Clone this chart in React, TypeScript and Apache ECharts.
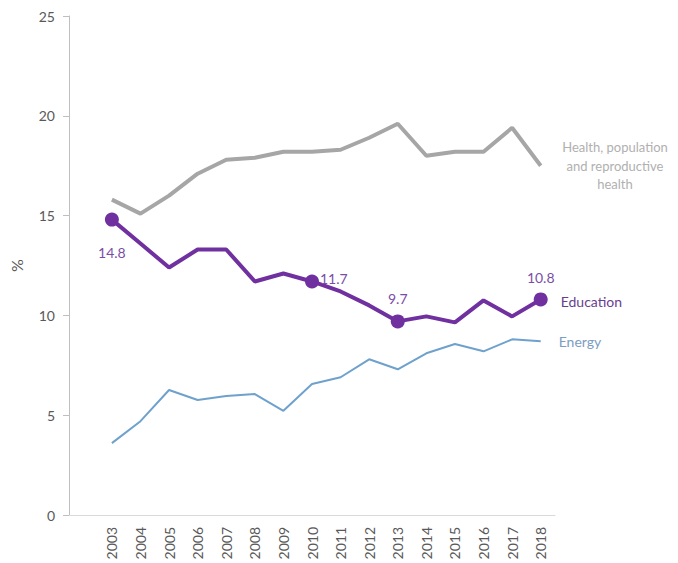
import React, { useEffect, useRef } from "react";
import * as echarts from "echarts";

const years = ["", "2003", "2004", "2005", "2006", "2007", "2008", "2009", "2010", "2011", "2012", "2013", "2014", "2015", "2016", "2017", "2018"];
const health = [null, 15.8, 15.1, 16.0, 17.1, 17.8, 17.9, 18.2, 18.2, 18.3, 18.9, 19.6, 18.0, 18.2, 18.2, 19.4, 17.5];
const education = [null, 14.8, 13.6, 12.4, 13.3, 13.3, 11.7, 12.1, 11.7, 11.2, 10.5, 9.7, 9.95, 9.65, 10.75, 9.95, 10.8];
const energy = [null, 3.6, 4.7, 6.26, 5.76, 5.96, 6.06, 5.22, 6.56, 6.9, 7.8, 7.3, 8.1, 8.57, 8.2, 8.8, 8.7];
const highlighted = ["2003", "2010", "2013", "2018"];
const healthLabelLines = ["Health, population", "and reproductive", "health"];
const yTicks = { min: 0, max: 25, interval: 5 };

const FONT = "Lato, 'Noto Sans', sans-serif";
const PURPLE = "#7030a0";
const GRAY = "#a6a6a6";
const BLUE = "#6fa1cd";

export default function App() {
  const ref = useRef<HTMLDivElement>(null);
  useEffect(() => {
    document.body.style.margin = "0";
    const chart = echarts.init(ref.current!, null, { renderer: "svg" });
    const labelPos: Record<string, any> = {
      "2003": { position: "bottom", distance: 19 },
      "2010": { position: "right", distance: 1, offset: [0, -3] },
      "2013": { position: "top", distance: 9 },
      "2018": { position: "top", distance: 8 },
    };
    const eduData = education.map((v, i) => {
      const y = years[i];
      if (v !== null && highlighted.includes(y)) {
        return {
          value: v,
          symbol: "circle",
          symbolSize: 14,
          label: {
            show: true,
            formatter: String(v),
            color: "#7a4ea6",
            fontSize: 14,
            fontFamily: FONT,
            ...labelPos[y],
          },
        };
      }
      return { value: v, symbol: "none" };
    });
    chart.setOption({
      animation: false,
      grid: { left: 69, top: 16, right: 123, bottom: 48, containLabel: false },
      xAxis: {
        type: "category",
        data: years,
        boundaryGap: true,
        axisLine: { show: true, lineStyle: { color: "#d9d9d9", width: 1 } },
        axisTick: { show: false },
        axisLabel: {
          rotate: 90,
          interval: 0,
          margin: 12,
          color: "#595959",
          fontSize: 14,
          fontFamily: FONT,
        },
      },
      yAxis: {
        type: "value",
        min: yTicks.min,
        max: yTicks.max,
        interval: yTicks.interval,
        name: "%",
        nameLocation: "middle",
        nameGap: 45,
        nameRotate: 90,
        nameTextStyle: { color: "#595959", fontSize: 16, fontFamily: FONT },
        splitLine: { show: false },
        axisLine: { show: true, lineStyle: { color: "#bfbfbf", width: 1 } },
        axisTick: { show: true, length: 6, lineStyle: { color: "#bfbfbf" } },
        axisLabel: { margin: 14, color: "#595959", fontSize: 14, fontFamily: FONT },
      },
      series: [
        {
          name: "Health, population and reproductive health",
          type: "line",
          data: health,
          symbol: "none",
          lineStyle: { color: GRAY, width: 4 },
          itemStyle: { color: GRAY },
          z: 2,
        },
        {
          name: "Education",
          type: "line",
          data: eduData,
          lineStyle: { color: PURPLE, width: 4 },
          itemStyle: { color: PURPLE },
          endLabel: {
            show: true,
            formatter: "Education",
            color: "#6a3d8f",
            fontSize: 14,
            fontFamily: FONT,
            distance: 20,
            offset: [0, 2],
          },
          z: 3,
        },
        {
          name: "Energy",
          type: "line",
          data: energy,
          symbol: "none",
          lineStyle: { color: BLUE, width: 2 },
          itemStyle: { color: BLUE },
          endLabel: {
            show: true,
            formatter: "Energy",
            color: "#7b9dc2",
            fontSize: 14,
            fontFamily: FONT,
            distance: 18,
          },
          z: 2,
        },
      ],
      graphic: healthLabelLines.map((t, i) => ({
        type: "text",
        x: 615,
        y: 147 + i * 18.5,
        style: {
          text: t,
          align: "center",
          verticalAlign: "middle",
          fill: "#b0b0b0",
          fontSize: 13,
          fontFamily: FONT,
        },
      })),
    });
    return () => chart.dispose();
  }, []);
  return <div ref={ref} style={{ width: 678, height: 563 }} />;
}
